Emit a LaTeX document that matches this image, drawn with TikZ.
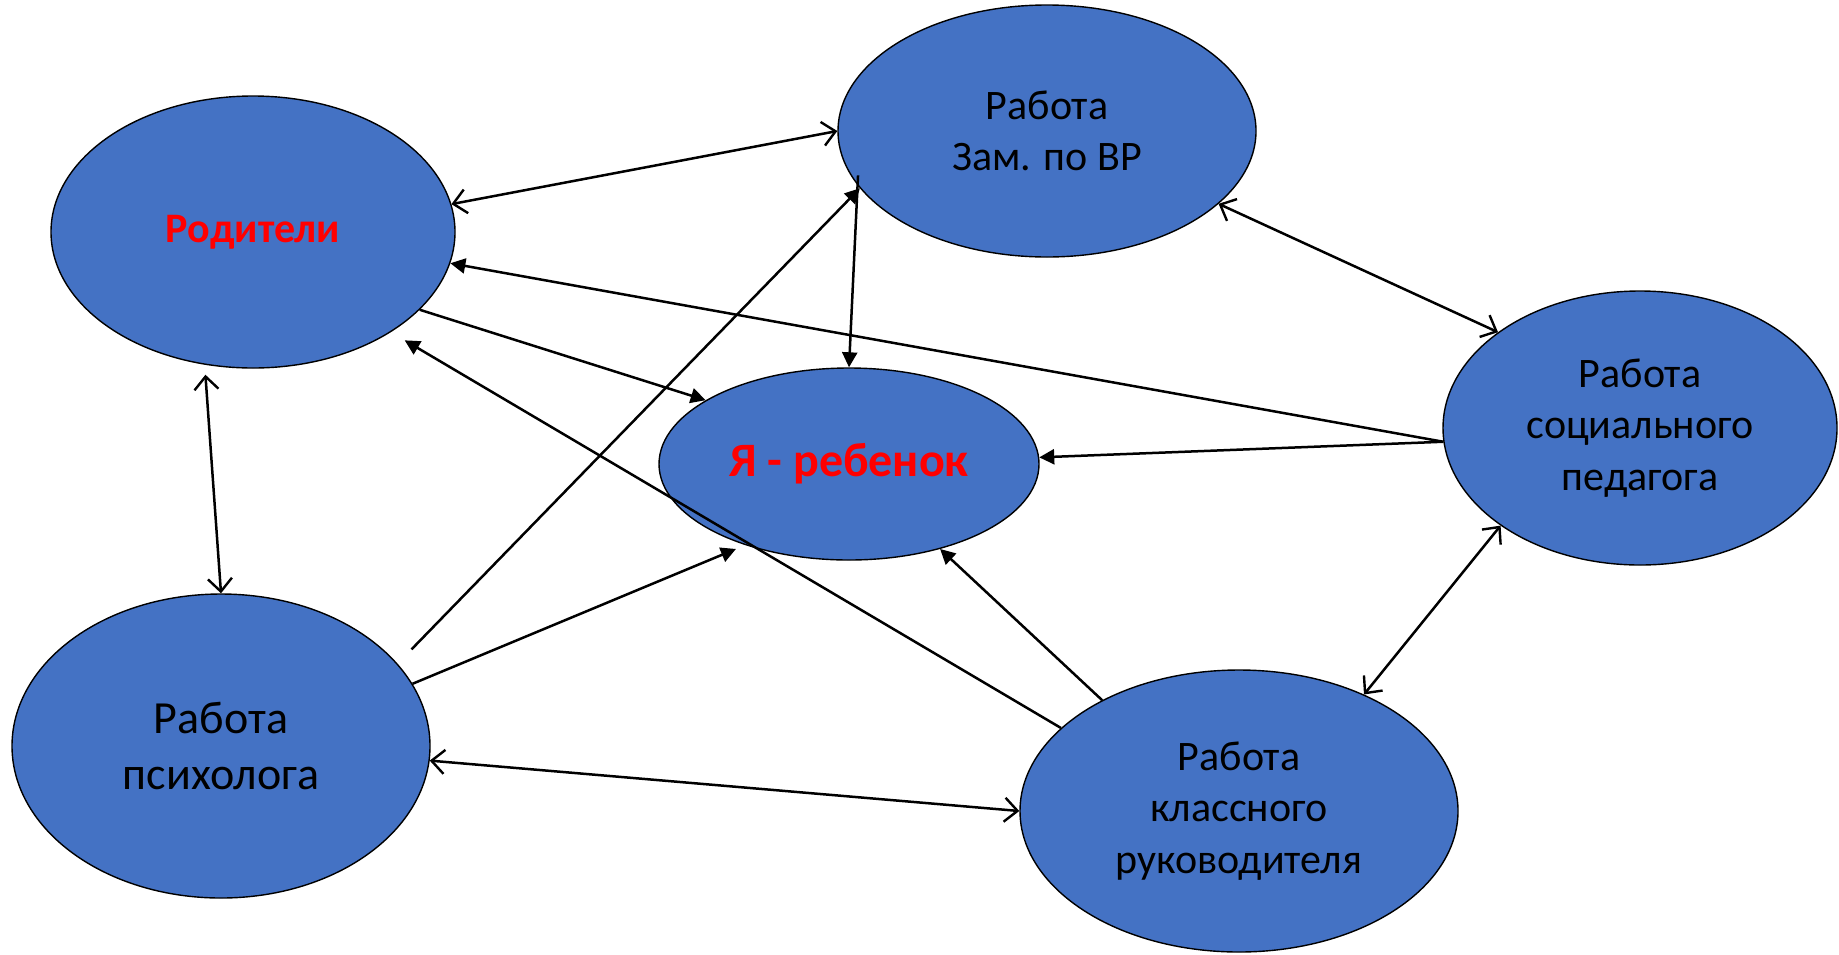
\documentclass[tikz,border=0pt]{standalone}
\usepackage{fontspec}
\setmainfont{Carlito}
\usepackage{tikz}
\usetikzlibrary{shapes.geometric,arrows.meta}
\definecolor{bubbleblue}{HTML}{4472C4}
\definecolor{labelred}{HTML}{FF0000}
\tikzstyle{bubble} = [ellipse, draw, line width=0.7pt, fill=bubbleblue, inner sep=0pt, align=center, font=\fontsize{21}{25.8}\selectfont]
\tikzstyle{connector} = [line width=1.25pt]
\tikzstyle{oneway} = [connector, -{Triangle[length=7.5pt,width=7.5pt]}]
\tikzstyle{twoway} = [connector, {Straight Barb[length=6.5pt,width=12pt,line width=1.2pt]}-{Straight Barb[length=6.5pt,width=12pt,line width=1.2pt]}]

\begin{document}
\begin{tikzpicture}[x=0.5pt,y=-0.5pt]
                \useasboundingbox (0,0) rectangle (1839,954);
                \node (rod) [bubble, minimum width=202pt, minimum height=136pt, text=labelred, font=\fontsize{21}{25.8}\selectfont\bfseries] at (253,232) {Родители};
                \node (zam) [bubble, minimum width=209pt, minimum height=126pt] at (1047,131) {Работа\\Зам. по ВР};
                \node (ya) [bubble, minimum width=190pt, minimum height=96pt, text=labelred, font=\fontsize{24}{29}\selectfont\bfseries] at (849,464) {Я - ребенок};
                \node (soc) [bubble, minimum width=197pt, minimum height=137pt] at (1640,428) {Работа\\социального\\педагога};
                \node (psy) [bubble, minimum width=209pt, minimum height=152pt, font=\fontsize{23}{28.2}\selectfont] at (221,746) {Работа\\психолога};
                \node (kl) [bubble, minimum width=219pt, minimum height=141pt] at (1239,811) {Работа\\классного\\руководителя};

                \draw [twoway] (rod.8) -- (zam.180);
                \draw [oneway] (soc.184) -- (rod.-9);
                \draw [oneway] (rod.-25) -- (ya.156);
                \draw [oneway, shorten <=10pt] (psy.25) -- (zam.-163);
                \draw [oneway, shorten <=-5pt] (zam.-164) -- (ya.90);
                \draw [oneway, shorten >=8pt] (kl.155) -- (rod.-36);
                \draw [twoway, shorten <=5pt] (rod.250) -- (psy.90);
                \draw [oneway, shorten >=5pt] (psy.18) -- (ya.-142);
                \draw [oneway] (kl.141) -- (ya.-43);
                \draw [oneway] (soc.184) -- (ya.2);
                \draw [twoway] (zam.-23) -- (soc.146);
                \draw [twoway] (soc.-145) -- (kl.43);
                \draw [twoway] (psy.-4) -- (kl.180);
            \end{tikzpicture}
\end{document}
